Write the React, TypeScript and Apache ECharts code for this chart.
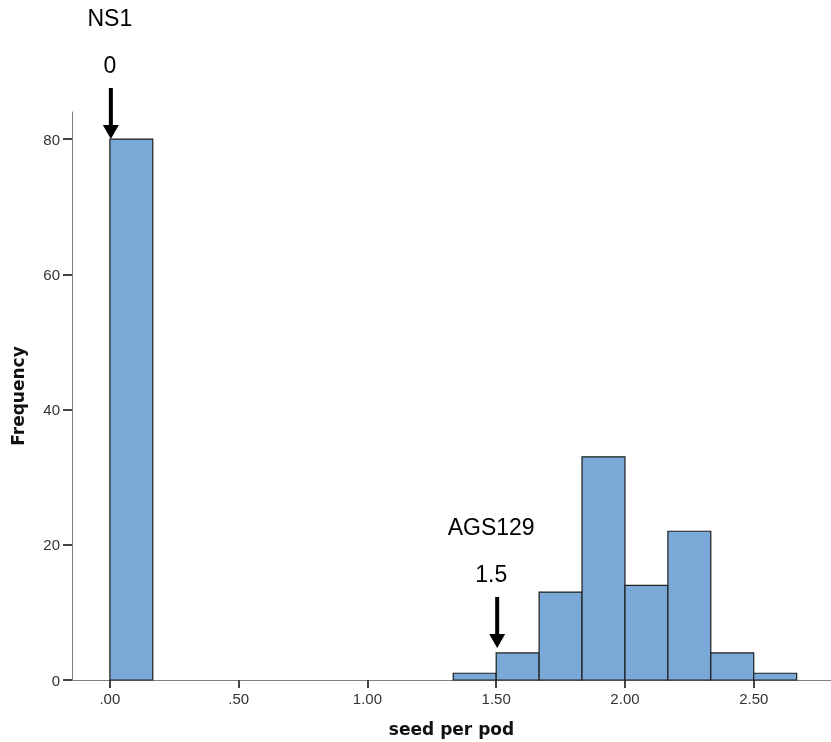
import React, { useEffect, useRef } from "react";
import * as echarts from "echarts";

const binStarts = [0, 1.3333, 1.5, 1.6667, 1.8333, 2.0, 2.1667, 2.3333, 2.5];
const binEnds = [0.1667, 1.5, 1.6667, 1.8333, 2.0, 2.1667, 2.3333, 2.5, 2.6667];
const frequencies = [80, 1, 4, 13, 33, 14, 22, 4, 1];

const xTicks = [0, 0.5, 1.0, 1.5, 2.0, 2.5];
const yTicks = [0, 20, 40, 60, 80];

const annoNames = ["NS1", "AGS129"];
const annoValues = ["0", "1.5"];
const annoX = [0, 1.5];
const annoY = [80, 4];

export default function App() {
  const ref = useRef<HTMLDivElement>(null);
  useEffect(() => {
    const chart = echarts.init(ref.current!, null, { renderer: "svg" });
    const data = binStarts.map((s, i) => [s, binEnds[i], frequencies[i]]);
    const font = "'Liberation Sans', Arial, sans-serif";
    chart.setOption({
      animation: false,
      grid: { left: 72, right: 0, top: 112, bottom: 62, outerBoundsMode: "none", containLabel: false },
      xAxis: {
        type: "value",
        min: -0.147,
        max: 2.8,
        name: "seed per pod",
        nameLocation: "middle",
        nameGap: 40,
        nameTextStyle: { fontFamily: "'DejaVu Sans', sans-serif", fontWeight: "bold", fontSize: 17, color: "#111" },
        axisLine: { show: true, onZero: false, lineStyle: { color: "#808080", width: 1 } },
        axisTick: { show: true, length: 8, lineStyle: { color: "#444", width: 2 }, customValues: xTicks },
        axisLabel: {
          customValues: xTicks,
          fontFamily: font,
          fontSize: 15,
          color: "#333",
          margin: 11,
          formatter: (v: number) => v.toFixed(2).replace(/^0/, ""),
        },
        splitLine: { show: false },
      },
      yAxis: {
        type: "value",
        min: 0,
        max: 84,
        name: "Frequency",
        nameLocation: "middle",
        nameGap: 46,
        nameRotate: 90,
        nameTextStyle: { fontFamily: "'DejaVu Sans', sans-serif", fontWeight: "bold", fontSize: 17, color: "#111" },
        axisLine: { show: true, onZero: false, lineStyle: { color: "#808080", width: 1 } },
        axisTick: { show: true, length: 9, lineStyle: { color: "#444", width: 2 }, customValues: yTicks },
        axisLabel: { customValues: yTicks, fontFamily: font, fontSize: 15, color: "#333", margin: 12 },
        splitLine: { show: false },
      },
      series: [
        {
          type: "custom",
          data,
          renderItem: (params: any, api: any) => {
            const p0 = api.coord([api.value(0), api.value(2)]);
            const p1 = api.coord([api.value(1), 0]);
            return {
              type: "rect",
              shape: { x: p0[0], y: p0[1], width: p1[0] - p0[0], height: p1[1] - p0[1] },
              style: { fill: "#7aa8d7", stroke: "#1e1e1e", lineWidth: 1.2 },
            };
          },
        },
      ],
    });
    const graphics: any[] = [];
    annoNames.forEach((name, i) => {
      const tip = chart.convertToPixel({ xAxisIndex: 0, yAxisIndex: 0 }, [annoX[i], annoY[i]]) as number[];
      const tx = tip[0] + 1;
      const ty = tip[1] - (i === 0 ? 0 : 5);
      graphics.push({
        type: "polygon",
        shape: {
          points: [
            [tx - 2, ty - 51], [tx + 2, ty - 51], [tx + 2, ty - 14], [tx + 8, ty - 14],
            [tx, ty], [tx - 8, ty - 14], [tx - 2, ty - 14],
          ],
        },
        style: { fill: "#000" },
      });
      const lx = tx - (i === 0 ? 1 : 6);
      graphics.push({
        type: "text",
        x: lx,
        y: ty - 74,
        style: { text: annoValues[i], fontFamily: font, fontSize: 23, fill: "#000", align: "center", verticalAlign: "middle" },
      });
      graphics.push({
        type: "text",
        x: lx,
        y: ty - 121,
        style: { text: name, fontFamily: font, fontSize: 23, fill: "#000", align: "center", verticalAlign: "middle" },
      });
    });
    chart.setOption({ graphic: graphics });
    return () => chart.dispose();
  }, []);
  return <div ref={ref} style={{ width: 831, height: 742, position: "fixed", left: 0, top: 0 }} />;
}
